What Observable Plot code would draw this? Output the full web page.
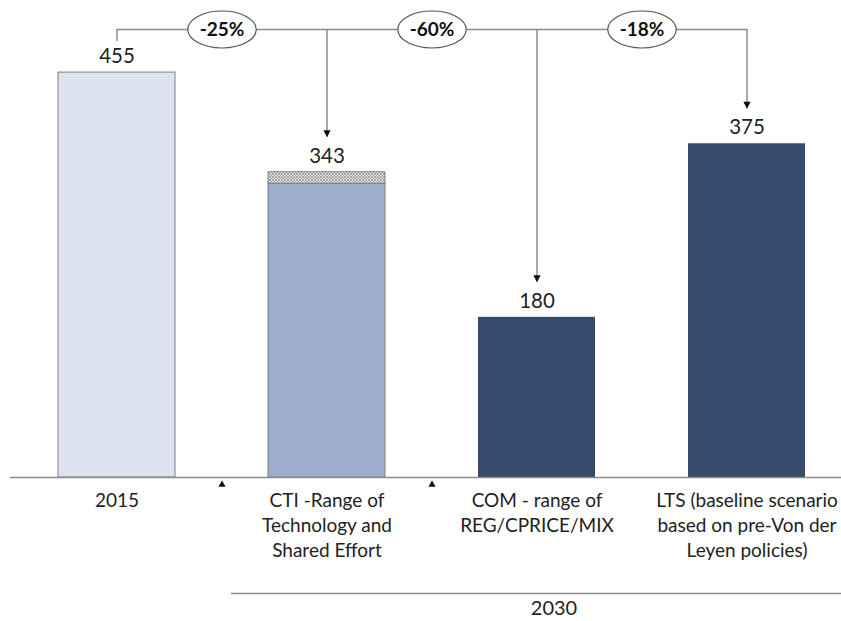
<!DOCTYPE html>
<html><head><meta charset="utf-8">
<script src="https://cdn.jsdelivr.net/npm/d3@7"></script>
<script src="https://cdn.jsdelivr.net/npm/@observablehq/plot@0.6"></script>
<style>body{margin:0;background:#fff;} svg{display:block;}</style>
</head><body><div id="chart"></div>
<script>
// ---- data ----
const categories = [
  "2015",
  "CTI -Range of\nTechnology and\nShared Effort",
  "COM - range of\nREG/CPRICE/MIX",
  "LTS (baseline scenario\nbased on pre-Von der\nLeyen policies)"
];
const values = [455, 343, 180, 375];      // top of each bar
const rangeLow = [455, 330, 180, 375];    // lower end of the range (CTI shows a hatched range)
const changeTargets = [categories[1], categories[2], categories[3]];
const changeLabels = ["-25%", "-60%", "-18%"];
const groupMarkers = [categories[1], categories[2]];
const groupLabel = "2030";

// ---- styles ----
const fillPalette = ["#dde3ee", "#9caecb", "#364b6c", "#364b6c"];
const strokePalette = ["#808080", "#808080", "none", "none"];
const lineColor = "#8c8c8c";
const textColor = "#222";

// ---- layout ----
const W = 841, H = 621, mL = 10, mR = 0, mT = 0, mB = 144;
const yDomain = [0, 536];
const xOpts = {type: "band", domain: categories, paddingInner: 0.443, paddingOuter: 0.2, align: 0.577};
const xs = Plot.scale({x: {...xOpts, range: [mL, W - mR]}});
const step = xs.step ?? (xs.bandwidth / (1 - 0.443));
const ys = Plot.scale({y: {domain: yDomain, range: [H - mB, mT]}});
const yAt = p => ys.invert(p);

const bars = categories.map((c, i) => ({cat: c, value: values[i], low: rangeLow[i], i}));
const comparisons = changeTargets.map((t, i) => ({target: t, label: changeLabels[i], value: values[categories.indexOf(t)]}));

const bracketY = yAt(29);
const tickEndY = yAt(41);
const tipY = v => yAt(ys.apply(v) - 35);
const groupLineY = yAt(593);
const groupTextY = yAt(608);

// custom symbols
const ellipse = {draw(ctx, size) {
  const R = Math.sqrt(size / Math.PI), rx = R * 1.85, ry = R, k = 0.5523;
  ctx.moveTo(rx, 0);
  ctx.bezierCurveTo(rx, k * ry, k * rx, ry, 0, ry);
  ctx.bezierCurveTo(-k * rx, ry, -rx, k * ry, -rx, 0);
  ctx.bezierCurveTo(-rx, -k * ry, -k * rx, -ry, 0, -ry);
  ctx.bezierCurveTo(k * rx, -ry, rx, -k * ry, rx, 0);
  ctx.closePath();
}};
const triDown = {draw(ctx, size) {
  const R = Math.sqrt(size / Math.PI), w = R * 1.3, h = R * 2.5;
  ctx.moveTo(0, 0); ctx.lineTo(-w, -h); ctx.lineTo(w, -h); ctx.closePath();
}};
const triUp = {draw(ctx, size) {
  const R = Math.sqrt(size / Math.PI), w = R * 1.3, h = R * 2.2;
  ctx.moveTo(0, 0); ctx.lineTo(-w, h); ctx.lineTo(w, h); ctx.closePath();
}};

const svg = Plot.plot({
  width: W, height: H,
  marginLeft: mL, marginRight: mR, marginTop: mT, marginBottom: mB,
  style: {fontFamily: "Lato, sans-serif", background: "#fff"},
  x: xOpts,
  y: {domain: yDomain, axis: null},
  marks: [
    Plot.barY(bars, {x: "cat", y1: 0, y2: "low", fill: d => fillPalette[d.i], stroke: d => strokePalette[d.i], strokeWidth: 1}),
    Plot.barY(bars.filter(d => d.value > d.low), {x: "cat", y1: "low", y2: "value", fill: "url(#hatch)", stroke: "#808080", strokeWidth: 1}),
    Plot.ruleY([0], {stroke: lineColor, strokeWidth: 1.6}),
    Plot.text(bars, {x: "cat", y: "value", text: d => String(d.value), dy: -16, fontSize: 20.5, fill: textColor}),
    Plot.axisX({tickSize: 0, tickPadding: 12, fontSize: 19, lineHeight: 1.32, color: textColor, label: null}),
    // top bracket
    Plot.link([{a: categories[0], b: categories[3]}], {x1: "a", x2: "b", y1: bracketY, y2: bracketY, stroke: lineColor, strokeWidth: 1.5}),
    Plot.ruleX([categories[0]], {x: d => d, y1: bracketY, y2: tickEndY, stroke: lineColor, strokeWidth: 1.5}),
    Plot.ruleX(comparisons, {x: "target", y1: bracketY, y2: d => tipY(d.value), stroke: lineColor, strokeWidth: 1.5}),
    Plot.dot(comparisons, {x: "target", y: d => tipY(d.value), symbol: triDown, r: 2.8, fill: "#111", stroke: "none"}),
    Plot.dot(comparisons, {x: "target", y: bracketY, dx: -step / 2, symbol: ellipse, r: 18.5, fill: "#fff", stroke: "#555", strokeWidth: 1.2}),
    Plot.text(comparisons, {x: "target", y: bracketY, dx: -step / 2, text: "label", fontSize: 19, fontWeight: "bold", fill: "#111"}),
    // group markers & label
    Plot.dot(groupMarkers, {x: d => d, y: 0, dx: -step / 2, dy: 3, symbol: triUp, r: 2.8, fill: "#111", stroke: "none"}),
    Plot.ruleY([groupLineY], {insetLeft: 221, stroke: lineColor, strokeWidth: 1.6}),
    Plot.text([groupLabel], {x: () => categories[2], y: groupTextY, dx: 17, text: d => d, fontSize: 20, fill: textColor})
  ]
});

// hatch pattern
const defs = d3.select(svg).insert("defs", ":first-child");
const pat = defs.append("pattern").attr("id", "hatch").attr("patternUnits", "userSpaceOnUse").attr("width", 3).attr("height", 3);
pat.append("rect").attr("width", 3).attr("height", 3).attr("fill", "#e4e4e4");
pat.append("path").attr("d", "M0,0L3,3M3,0L0,3").attr("stroke", "#7a7a7a").attr("stroke-width", 0.6);

document.getElementById("chart").appendChild(svg);
</script>
</body></html>
